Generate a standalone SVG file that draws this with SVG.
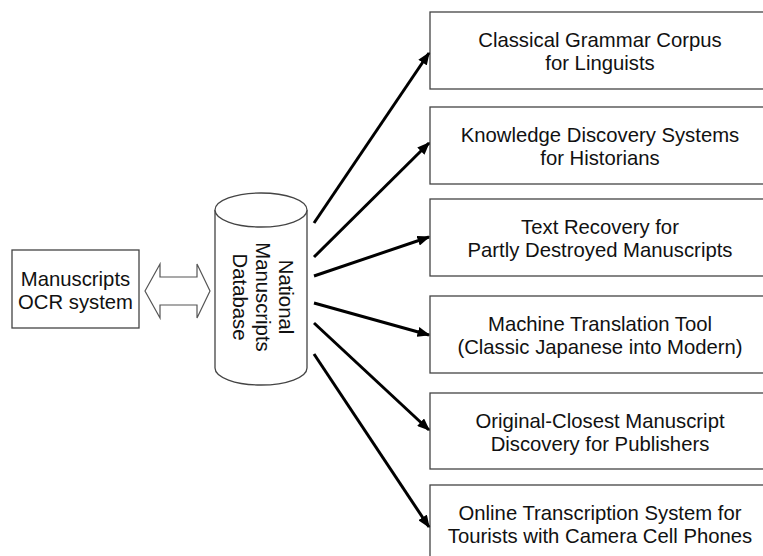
<svg xmlns="http://www.w3.org/2000/svg" width="763" height="556" viewBox="0 0 763 556">
<style>
.box{fill:#fff;stroke:#444;stroke-width:1.3}
.t{font-family:"Liberation Sans",Arial,sans-serif;font-size:20.3px;fill:#111;text-anchor:middle}
.arr{stroke:#000;stroke-width:3;fill:none;marker-end:url(#ah)}
</style>
<defs>
<marker id="ah" viewBox="0 0 10 8" refX="9" refY="4" markerWidth="4.3" markerHeight="3.4" orient="auto" markerUnits="strokeWidth">
<path d="M0,0 L10,4 L0,8 Z" fill="#000"/>
</marker>
</defs>
<rect width="763" height="556" fill="#fff"/>
<g id="ocr">
<rect class="box" x="12" y="250" width="127" height="78"/>
<text class="t" x="75.5" y="286">Manuscripts</text>
<text class="t" x="75.5" y="309">OCR system</text>
</g>
<g id="dblarrow">
<path d="M145,291 L160,264 L160,277 L197,277 L197,264 L210,291 L197,318 L197,305 L160,305 L160,318 Z" fill="#fff" stroke="#555" stroke-width="1.2"/>
</g>
<g id="db">
<path d="M215,210 L215,368 A46,17 0 0 0 307,368 L307,210" fill="#fff" stroke="#444" stroke-width="1.3"/>
<ellipse cx="261" cy="210" rx="46" ry="17" fill="#fff" stroke="#444" stroke-width="1.3"/>
<g transform="translate(261,297) rotate(90)">
<text class="t" x="0" y="-18">National</text>
<text class="t" x="0" y="5">Manuscripts</text>
<text class="t" x="0" y="28">Database</text>
</g>
</g>
<g id="n1"><rect class="box" x="430" y="12" width="340" height="77"/>
<text class="t" x="600" y="47">Classical Grammar Corpus</text><text class="t" x="600" y="70">for Linguists</text></g>
<g id="n2"><rect class="box" x="430" y="107" width="340" height="77"/>
<text class="t" x="600" y="142">Knowledge Discovery Systems</text><text class="t" x="600" y="165">for Historians</text></g>
<g id="n3"><rect class="box" x="430" y="199" width="340" height="77"/>
<text class="t" x="600" y="234">Text Recovery for</text><text class="t" x="600" y="257">Partly Destroyed Manuscripts</text></g>
<g id="n4"><rect class="box" x="430" y="296" width="340" height="77"/>
<text class="t" x="600" y="331">Machine Translation Tool</text><text class="t" x="600" y="354">(Classic Japanese into Modern)</text></g>
<g id="n5"><rect class="box" x="430" y="393" width="340" height="76"/>
<text class="t" x="600" y="428">Original-Closest Manuscript</text><text class="t" x="600" y="451">Discovery for Publishers</text></g>
<g id="n6"><rect class="box" x="430" y="485" width="340" height="77"/>
<text class="t" x="600" y="520">Online Transcription System for</text><text class="t" x="600" y="543">Tourists with Camera Cell Phones</text></g>
<g id="connectors">
<line class="arr" x1="314" y1="223" x2="429" y2="53"/>
<line class="arr" x1="314" y1="257" x2="429" y2="143"/>
<line class="arr" x1="314" y1="276" x2="429" y2="237"/>
<line class="arr" x1="314" y1="303" x2="429" y2="335"/>
<line class="arr" x1="314" y1="323" x2="429" y2="430"/>
<line class="arr" x1="314" y1="354" x2="429" y2="527"/>
</g>
</svg>
